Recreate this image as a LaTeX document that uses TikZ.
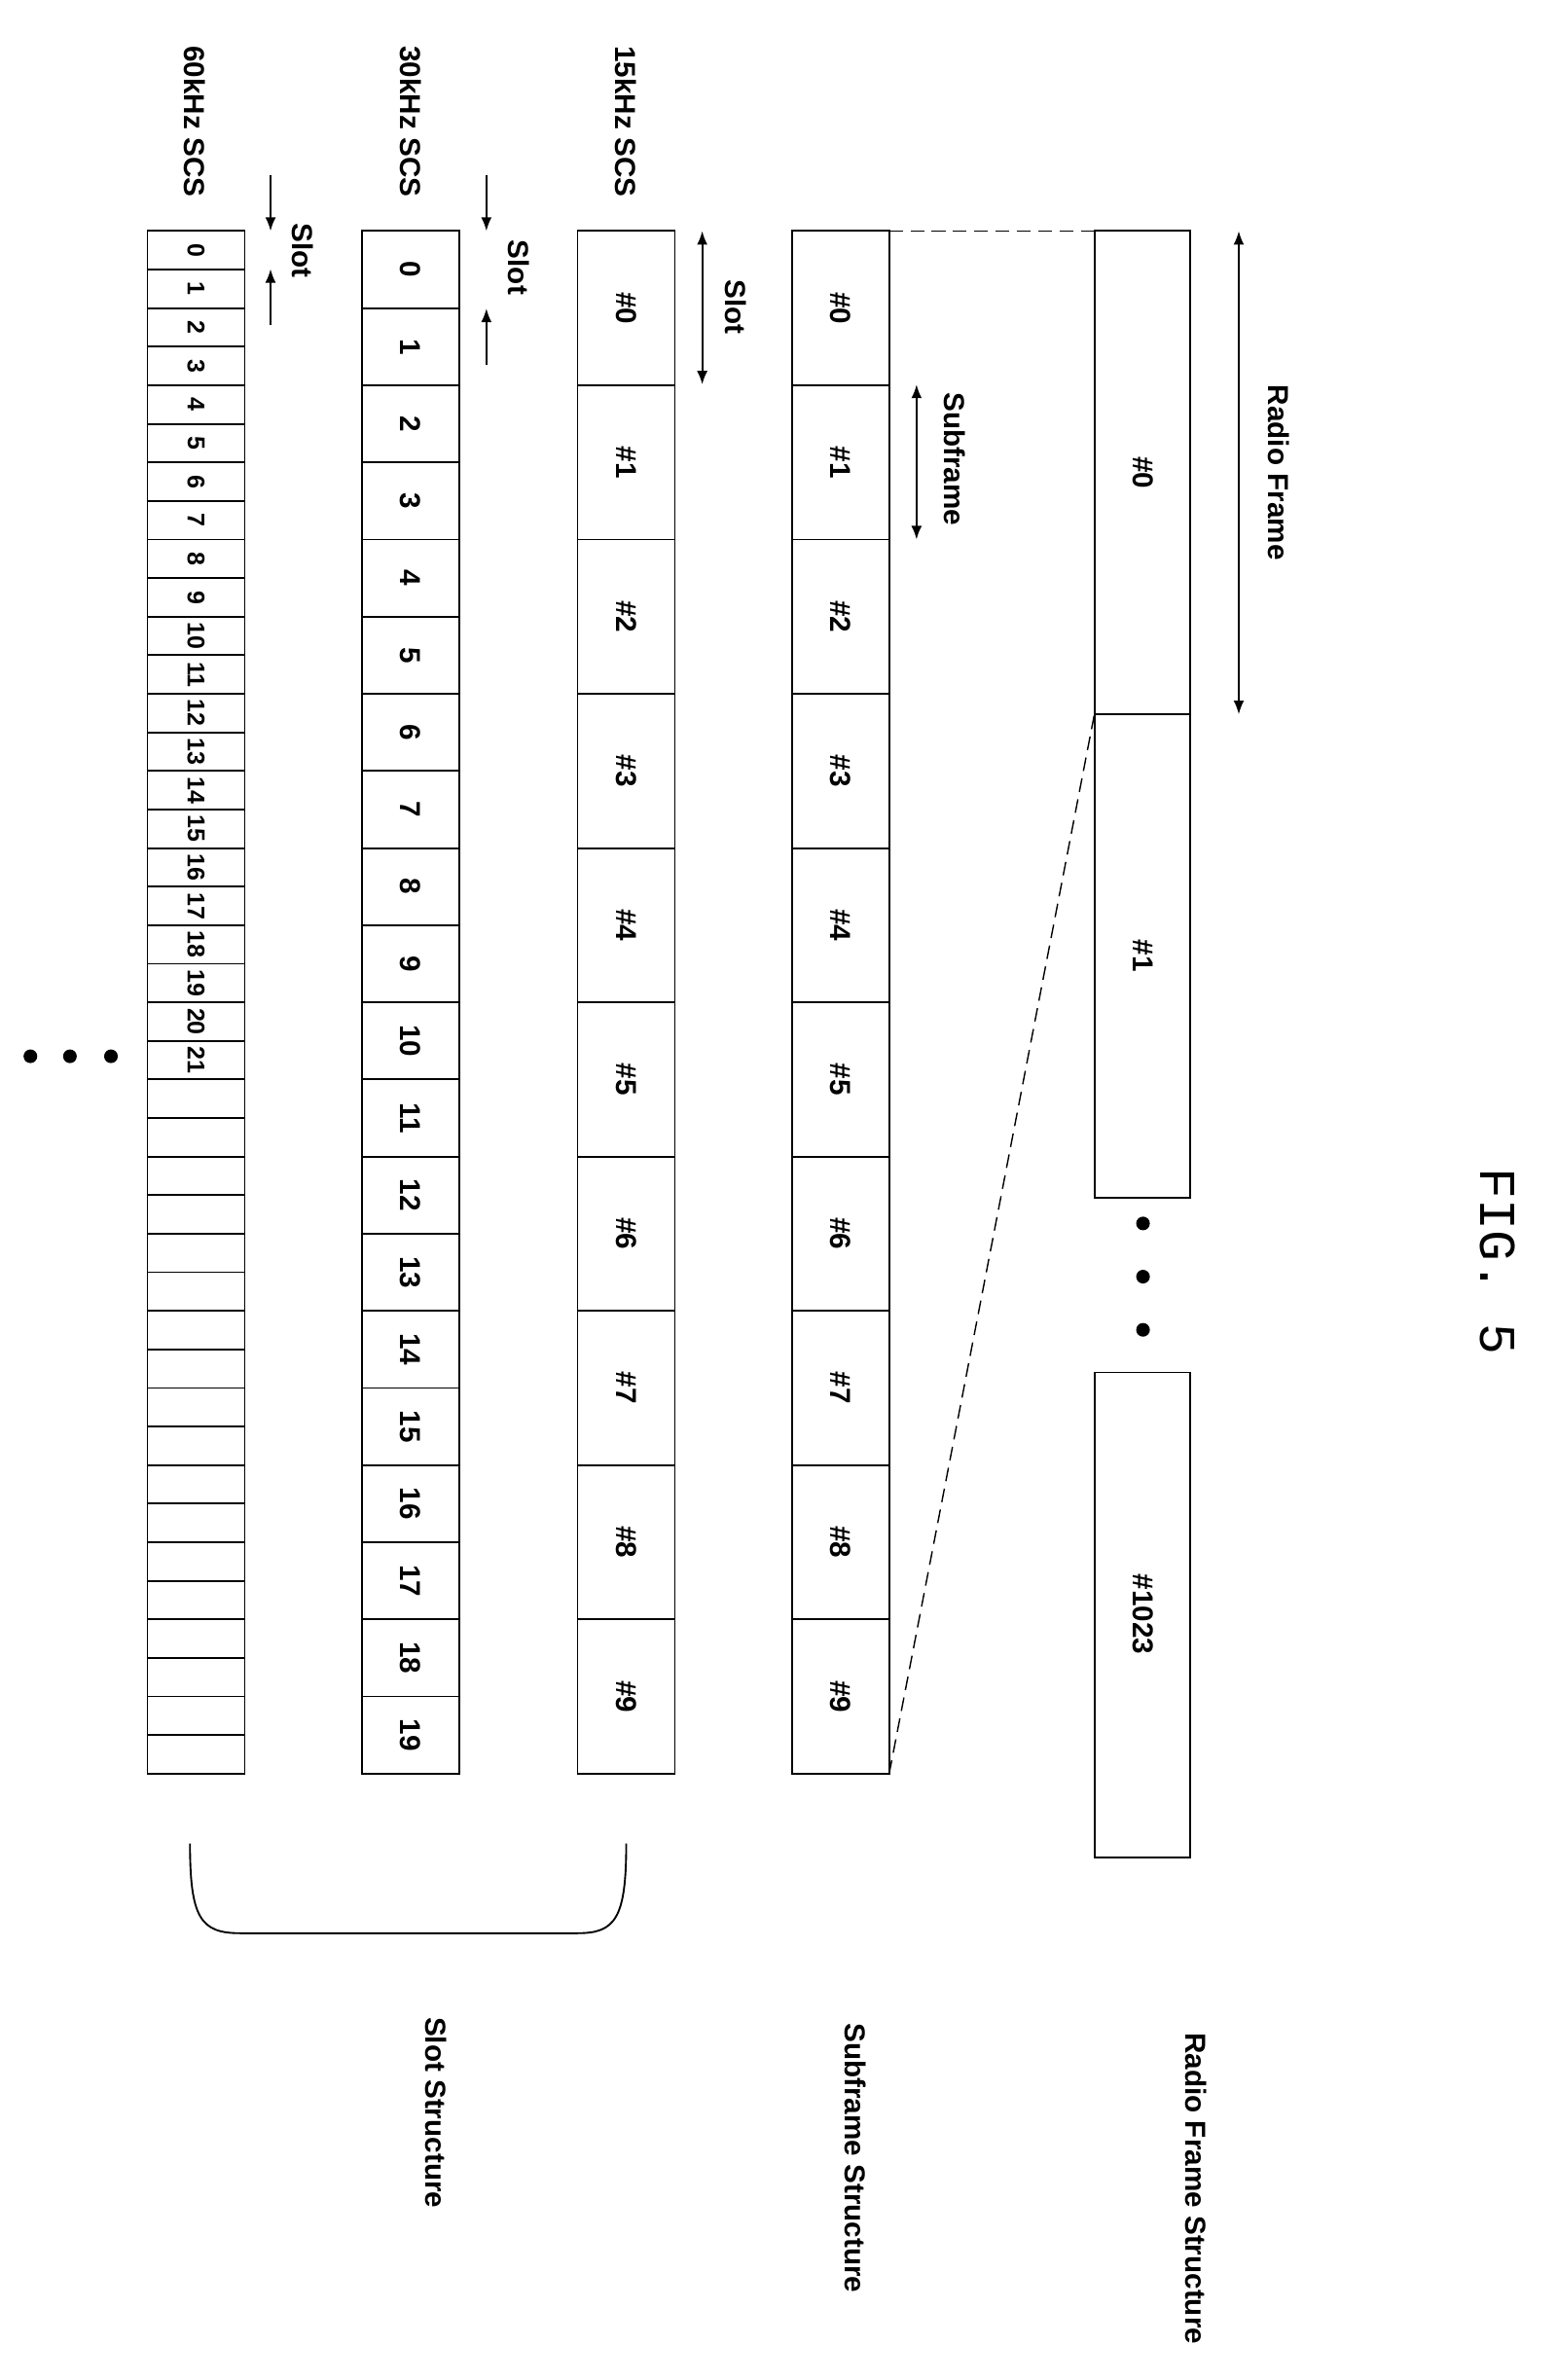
\documentclass[tikz,border=0pt]{standalone}
\usepackage{fontspec}
\setmainfont{Liberation Sans}
\newfontfamily\figfont{Liberation Mono}
\usetikzlibrary{arrows.meta}
\tikzset{every picture/.style={line width=1.2pt},
  lbl/.style={rotate=-90,inner sep=0pt,font=\bfseries\fontsize{19}{19}\selectfont},
  cell/.style={draw},
  arr/.style={-{Latex[length=9pt,width=7pt]}},
  dline/.style={line width=0.9pt,dash pattern=on 9pt off 5pt}}
\begin{document}
\begin{tikzpicture}[x=1pt,y=1pt,yscale=-1]
\useasboundingbox (0,0) rectangle (1024,1566);
% radio frame structure
\draw[cell] (720,152) rectangle (783,470);
\draw[cell] (720,470) rectangle (783,788);
\draw[cell] (720,903) rectangle (783,1222);
\node[lbl] (rf0) at (752,311) {\#0};
\node[lbl] (rf1) at (752,629) {\#1};
\node[lbl] (rfl) at (752,1062) {\#1023};
\foreach \y in {805,840,875} \fill (752,\y) circle (4.5);
\coordinate (rfa) at (815,152);
\coordinate (rfb) at (815,470);
\draw[{Latex[length=9pt,width=7pt]}-{Latex[length=9pt,width=7pt]}] (rfa) -- (rfb);
\node[lbl] (rflab) at (841,311) {Radio Frame};
\node[rotate=-90,font=\figfont\fontsize{34}{34}\selectfont] (fig) at (985,830) {FIG. 5};
\node[lbl] (rfs) at (787,1440) {Radio Frame Structure};
% subframe structure
\foreach \i in {0,...,9}{
  \draw[cell] (521,152+101.5*\i) rectangle (585,152+101.5*\i+101.5);
  \node[lbl] (sf\i) at (553,152+101.5*\i+50.75) {\#\i};
}
\draw[dline] (585,152) -- (720,152);
\draw[dline] (585,1167) -- (720,470);
\draw[{Latex[length=9pt,width=7pt]}-{Latex[length=9pt,width=7pt]}] (603,253) -- (603,355);
\node[lbl] (sflab) at (628,302) {Subframe};
\node[lbl] (sfs) at (563,1420) {Subframe Structure};
% 15kHz
\foreach \i in {0,...,9}{
  \draw[cell] (380,152+101.5*\i) rectangle (444,152+101.5*\i+101.5);
  \node[lbl] (a\i) at (412,152+101.5*\i+50.75) {\#\i};
}
\node[lbl] (s15) at (412,80) {15kHz SCS};
\draw[{Latex[length=9pt,width=7pt]}-{Latex[length=9pt,width=7pt]}] (462,152) -- (462,253);
\node[lbl] (sl15) at (484,202) {Slot};
% 30kHz
\foreach \i in {0,...,19}{
  \draw[cell] (238,152+50.75*\i) rectangle (302,152+50.75*\i+50.75);
  \node[lbl] (b\i) at (270,152+50.75*\i+25.4) {\i};
}
\node[lbl] (s30) at (270,80) {30kHz SCS};
\draw[arr] (320,115) -- (320,152);
\draw[arr] (320,240) -- (320,203);
\node[lbl] (sl30) at (341,176) {Slot};
% 60kHz
\foreach \i in {0,...,39}
  \draw[cell] (97,152+25.375*\i) rectangle (161,152+25.375*\i+25.375);
\foreach \i in {0,...,21}
  \node[lbl,font=\bfseries\fontsize{16}{16}\selectfont] (c\i) at (129,152+25.375*\i+12.7) {\i};
\node[lbl] (s60) at (128,80) {60kHz SCS};
\draw[arr] (178,115) -- (178,152);
\draw[arr] (178,214) -- (178,177);
\node[lbl] (sl60) at (199,165) {Slot};
\foreach \x in {20,46,73} \fill (\x,695) circle (4.5);
% brace
\draw (412,1213) .. controls (412,1262) and (405,1272) .. (380,1272) -- (158,1272)
  .. controls (132,1272) and (125,1262) .. (125,1213);
\node[lbl] (sls) at (287,1390) {Slot Structure};
\end{tikzpicture}
\end{document}
